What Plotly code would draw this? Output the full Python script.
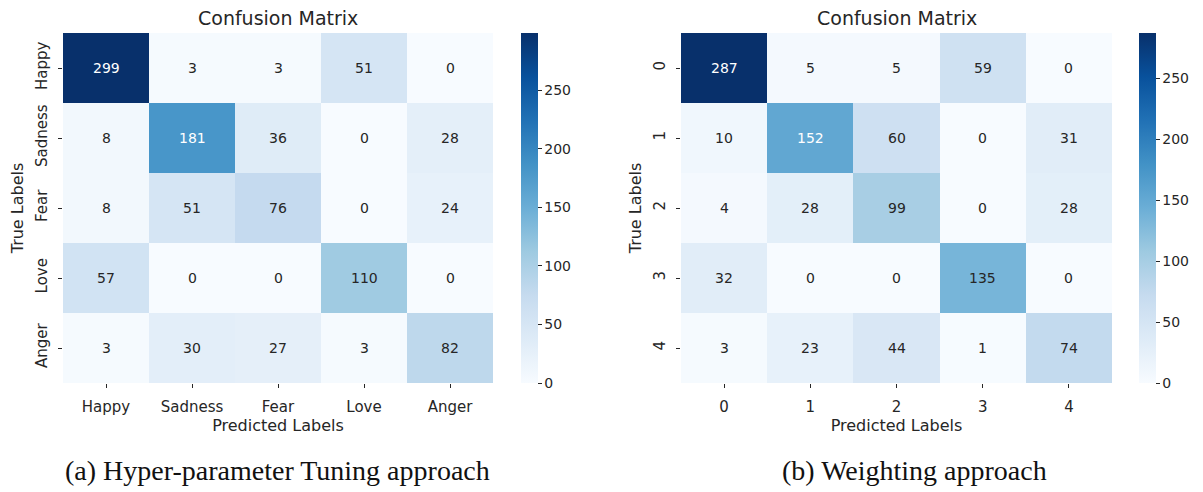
import plotly.graph_objects as go
import plotly.express as px

# Confusion matrices for the two training approaches
emotion_labels = ["Happy", "Sadness", "Fear", "Love", "Anger"]
index_labels = ["0", "1", "2", "3", "4"]

cm_tuning = [
    [299, 3, 3, 51, 0],
    [8, 181, 36, 0, 28],
    [8, 51, 76, 0, 24],
    [57, 0, 0, 110, 0],
    [3, 30, 27, 3, 82],
]
cm_weighting = [
    [287, 5, 5, 59, 0],
    [10, 152, 60, 0, 31],
    [4, 28, 99, 0, 28],
    [32, 0, 0, 135, 0],
    [3, 23, 44, 1, 74],
]

cbar_ticks = [0, 50, 100, 150, 200, 250]
panel_title = "Confusion Matrix"
x_title = "Predicted Labels"
y_title = "True Labels"
captions = ["(a) Hyper-parameter Tuning approach", "(b) Weighting approach"]

W, H = 1203, 492
BLUES = px.colors.sequential.Blues
FONT = "DejaVu Sans"
TXT = "#262626"


def px2x(p):
    return p / W


def px2y(p):
    return 1 - p / H


panels = [
    dict(z=cm_tuning, labels=emotion_labels, left=63, right=493, cbar=521, cap=277),
    dict(z=cm_weighting, labels=index_labels, left=681, right=1112, cbar=1139, cap=914),
]
top, bottom = 33, 383

fig = go.Figure()
annotations = []

for i, p in enumerate(panels, start=1):
    xa = "x" if i == 1 else f"x{i}"
    ya = "y" if i == 1 else f"y{i}"
    zmax = max(max(r) for r in p["z"])
    fig.add_trace(go.Heatmap(
        z=p["z"], x=p["labels"], y=p["labels"],
        xaxis=xa, yaxis=ya,
        colorscale=[[k / (len(BLUES) - 1), c] for k, c in enumerate(BLUES)],
        zmin=0, zmax=zmax,
        hoverinfo="skip",
        colorbar=dict(
            x=px2x(p["cbar"]), xanchor="left", xref="paper",
            y=px2y(top), yanchor="top",
            len=bottom - top, lenmode="pixels",
            thickness=17, thicknessmode="pixels",
            outlinewidth=0,
            tickvals=cbar_ticks,
            ticks="outside", ticklen=4, tickcolor=TXT, tickwidth=1,
            tickfont=dict(family=FONT, size=14, color=TXT),
            xpad=0, ypad=0,
        ),
    ))
    # cell value labels
    for r, row in enumerate(p["z"]):
        for c, v in enumerate(row):
            annotations.append(dict(
                x=p["labels"][c], y=p["labels"][r], xref=xa, yref=ya,
                text=str(v), showarrow=False,
                font=dict(family=FONT, size=14,
                          color="white" if v / zmax > 0.5 else TXT),
            ))
    axis_common = dict(
        type="category", showgrid=False, zeroline=False, showline=False,
        ticks="outside", ticklen=4, tickcolor=TXT, tickwidth=1,
        tickfont=dict(family=FONT, size=15, color=TXT),
    )
    fig.layout[f"xaxis{'' if i == 1 else i}"] = dict(
        axis_common,
        domain=[px2x(p["left"]), px2x(p["right"])],
        anchor=ya, ticklabelstandoff=6,
        title=dict(text=x_title, font=dict(family=FONT, size=16, color=TXT), standoff=2),
    )
    fig.layout[f"yaxis{'' if i == 1 else i}"] = dict(
        axis_common,
        domain=[px2y(bottom), px2y(top)],
        anchor=xa, autorange="reversed", tickangle=-90, ticklabelstandoff=5,
        title=dict(text=y_title, font=dict(family=FONT, size=16, color=TXT), standoff=5),
    )
    cx = px2x((p["left"] + p["right"]) / 2)
    annotations.append(dict(
        x=cx, y=px2y(18), xref="paper", yref="paper",
        text=panel_title, showarrow=False, xanchor="center", yanchor="middle",
        font=dict(family=FONT, size=19, color=TXT),
    ))
    annotations.append(dict(
        x=px2x(p["cap"]), y=px2y(470), xref="paper", yref="paper",
        text=captions[i - 1], showarrow=False, xanchor="center", yanchor="middle",
        font=dict(family="Liberation Serif", size=28, color="#111111"),
    ))

fig.update_layout(
    width=W, height=H,
    margin=dict(l=0, r=0, t=0, b=0),
    paper_bgcolor="white", plot_bgcolor="white",
    annotations=annotations,
    showlegend=False,
)

fig.write_html("out.html")
